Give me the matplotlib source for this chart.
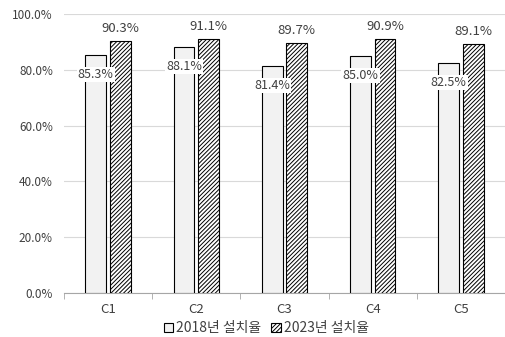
import matplotlib.pyplot as plt
import numpy as np

plt.rcParams['font.family'] = ['Noto Sans CJK KR', 'DejaVu Sans']
plt.rcParams['hatch.linewidth'] = 0.7

categories = ["C1", "C2", "C3", "C4", "C5"]
rate_2018 = [85.3, 88.1, 81.4, 85.0, 82.5]
rate_2023 = [90.3, 91.1, 89.7, 90.9, 89.1]
series_names = ["2018년 설치율", "2023년 설치율"]

fig = plt.figure(figsize=(5.05, 3.37), dpi=100)
ax = fig.add_axes([64 / 505, 1 - 293 / 337, 441 / 505, 279 / 337])

x = np.arange(len(categories))
w = 0.235
b1 = ax.bar(x - 0.14, rate_2018, w, color="#f2f2f2", edgecolor="black", linewidth=0.8,
            label=series_names[0], zorder=3)
b2 = ax.bar(x + 0.14, rate_2023, w, color="white", edgecolor="black", linewidth=0.8,
            hatch="////////", label=series_names[1], zorder=3)

for xi, v in zip(x - 0.14, rate_2018):
    ax.annotate(f"{v:.1f}%", (xi, v), xytext=(0, -14), textcoords="offset points",
                ha="center", va="center", fontsize=9, color="#404040", zorder=5,
                bbox=dict(boxstyle="square,pad=0.1", fc="white", ec="none"))
for xi, v in zip(x + 0.14, rate_2023):
    ax.annotate(f"{v:.1f}%", (xi, v), xytext=(0, 9), textcoords="offset points",
                ha="center", va="center", fontsize=9.5, color="#404040", zorder=5)

ax.set_ylim(0, 100)
ax.set_xlim(-0.5, 4.5)
ax.set_yticks(np.arange(0, 101, 20))
ax.set_yticklabels([f"{t:.1f}%" for t in np.arange(0, 101, 20)])
ax.yaxis.grid(True, color="#d9d9d9", linewidth=0.8, zorder=0)
ax.set_axisbelow(True)

ax.set_xticks(x)
ax.set_xticklabels(categories)
ax.set_xticks(np.arange(-0.5, 5, 1), minor=True)
ax.tick_params(axis="x", which="major", length=0, pad=7, labelsize=9.5, labelcolor="#404040")
ax.tick_params(axis="x", which="minor", length=4, color="#a6a6a6", direction="out")
ax.tick_params(axis="y", length=0, pad=8, labelsize=8.5, labelcolor="#404040")

for s in ["top", "right", "left"]:
    ax.spines[s].set_visible(False)
ax.spines["bottom"].set_color("#a6a6a6")

fig.legend(handles=[b1, b2], loc="lower center", bbox_to_anchor=(0.527, -0.012), ncol=2,
           frameon=False, fontsize=10, handlelength=0.7, handleheight=0.7,
           handletextpad=0.2, columnspacing=0.7, labelcolor="#404040", borderaxespad=0.0)

fig.savefig("out.png", dpi=100)
